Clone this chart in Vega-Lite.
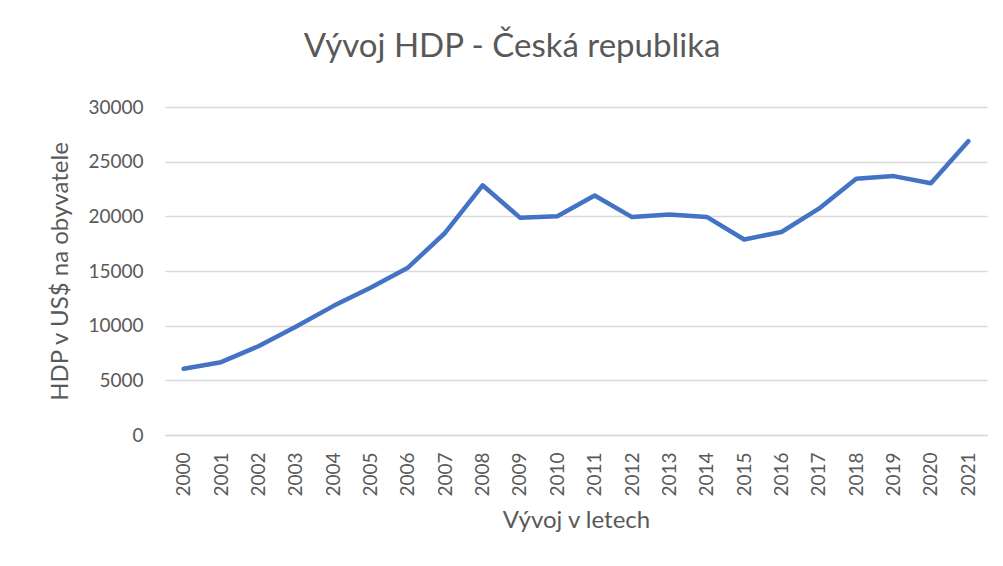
{
  "$schema": "https://vega.github.io/schema/vega-lite/v6.json",
  "width": 822,
  "height": 328,
  "autosize": {"type": "none"},
  "padding": {"left": 165, "top": 107, "right": 16, "bottom": 131},
  "background": "white",
  "title": {
    "text": "Vývoj HDP - Česká republika",
    "anchor": "middle",
    "frame": "group",
    "dx": -64,
    "font": "Lato",
    "fontSize": 33,
    "fontWeight": "normal",
    "color": "#595959",
    "offset": 34
  },
  "data": {
    "values": [
      {"rok": "2000", "hdp": 6060},
      {"rok": "2001", "hdp": 6660},
      {"rok": "2002", "hdp": 8120},
      {"rok": "2003", "hdp": 9900},
      {"rok": "2004", "hdp": 11790},
      {"rok": "2005", "hdp": 13470},
      {"rok": "2006", "hdp": 15300},
      {"rok": "2007", "hdp": 18500},
      {"rok": "2008", "hdp": 22840},
      {"rok": "2009", "hdp": 19880},
      {"rok": "2010", "hdp": 20000},
      {"rok": "2011", "hdp": 21900},
      {"rok": "2012", "hdp": 19930},
      {"rok": "2013", "hdp": 20170},
      {"rok": "2014", "hdp": 19950},
      {"rok": "2015", "hdp": 17880},
      {"rok": "2016", "hdp": 18570},
      {"rok": "2017", "hdp": 20700},
      {"rok": "2018", "hdp": 23440},
      {"rok": "2019", "hdp": 23680},
      {"rok": "2020", "hdp": 23020},
      {"rok": "2021", "hdp": 26870}
    ]
  },
  "mark": {"type": "line", "color": "#4472C4", "strokeWidth": 4.5, "strokeCap": "round", "strokeJoin": "round"},
  "encoding": {
    "x": {
      "field": "rok",
      "type": "ordinal",
      "scale": {"type": "point", "padding": 0.5},
      "axis": {
        "title": "Vývoj v letech",
        "labelAngle": -90,
        "labelAlign": "right",
        "labelBaseline": "middle",
        "labelPadding": 17,
        "titlePadding": 12,
        "ticks": false,
        "domain": true,
        "domainColor": "#d9d9d9",
        "domainWidth": 1.5,
        "grid": false
      }
    },
    "y": {
      "field": "hdp",
      "type": "quantitative",
      "scale": {"domain": [0, 30000], "nice": false},
      "axis": {
        "title": "HDP v US$ na obyvatele",
        "values": [0, 5000, 10000, 15000, 20000, 25000, 30000],
        "format": "d",
        "ticks": false,
        "domain": false,
        "grid": true,
        "gridColor": "#d9d9d9",
        "gridWidth": 1.5,
        "labelPadding": 22,
        "titlePadding": 15
      }
    }
  },
  "config": {
    "view": {"stroke": null},
    "axis": {
      "labelFont": "Lato",
      "labelFontSize": 19,
      "labelColor": "#595959",
      "titleFont": "Lato",
      "titleFontSize": 24,
      "titleFontWeight": "normal",
      "titleColor": "#595959"
    }
  }
}
